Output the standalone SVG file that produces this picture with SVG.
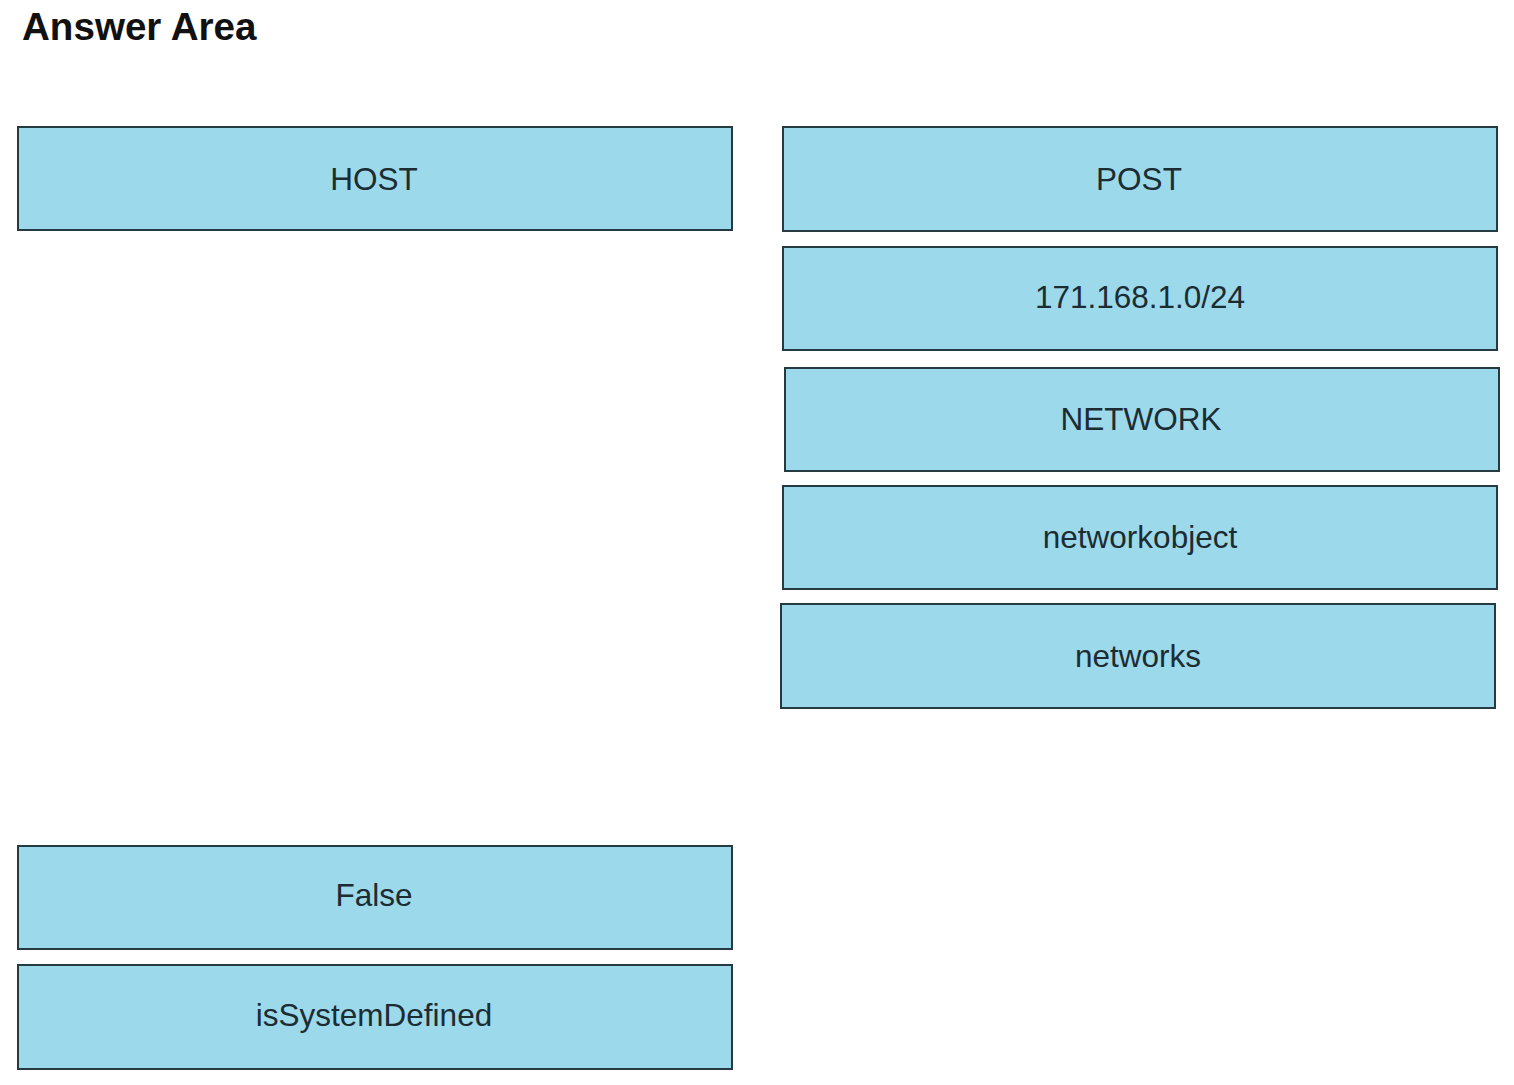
<svg xmlns="http://www.w3.org/2000/svg" width="1514" height="1085" viewBox="0 0 1514 1085">
<style>
.box{fill:#9cd9ea;stroke:#263a42;stroke-width:2}
.lbl{font-family:"Liberation Sans",Arial,sans-serif;font-size:31.5px;fill:#1c2c33;text-anchor:middle}
.title{font-family:"Liberation Sans",Arial,sans-serif;font-size:38.6px;font-weight:bold;fill:#111}
</style>
<rect width="1514" height="1085" fill="#fff"/>
<text class="title" x="22" y="40">Answer Area</text>
<g id="host"><rect class="box" x="18" y="127" width="714" height="103"/><text class="lbl" x="374" y="190">HOST</text></g>
<g id="post"><rect class="box" x="783" y="127" width="714" height="104"/><text class="lbl" x="1139" y="190">POST</text></g>
<g id="ip"><rect class="box" x="783" y="247" width="714" height="103"/><text class="lbl" x="1140" y="308">171.168.1.0/24</text></g>
<g id="network"><rect class="box" x="785" y="368" width="714" height="103"/><text class="lbl" x="1141" y="430">NETWORK</text></g>
<g id="networkobject"><rect class="box" x="783" y="486" width="714" height="103"/><text class="lbl" x="1140" y="548">networkobject</text></g>
<g id="networks"><rect class="box" x="781" y="604" width="714" height="104"/><text class="lbl" x="1138" y="667">networks</text></g>
<g id="false"><rect class="box" x="18" y="846" width="714" height="103"/><text class="lbl" x="374" y="906">False</text></g>
<g id="issystemdefined"><rect class="box" x="18" y="965" width="714" height="104"/><text class="lbl" x="374" y="1026">isSystemDefined</text></g>
<g id="connectors"></g>
</svg>
